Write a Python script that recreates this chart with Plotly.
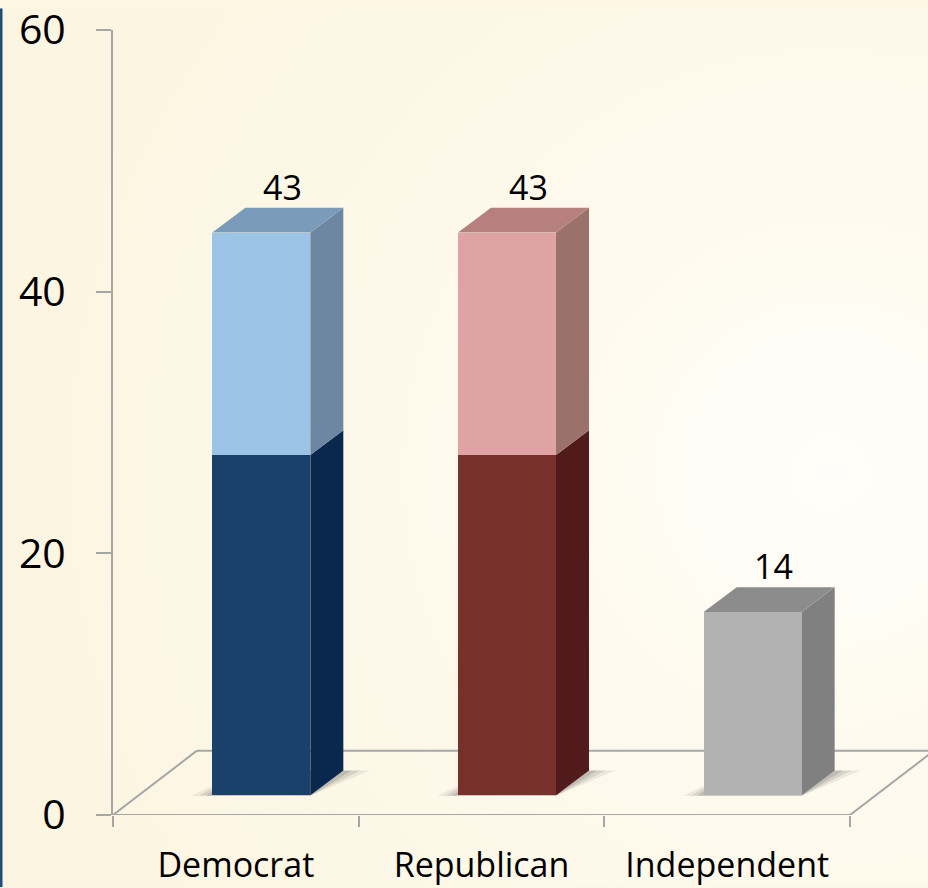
import base64
import plotly.graph_objects as go

# ---- data ----
categories = ["Democrat", "Republican", "Independent"]
lower_values = [26, 26, 14]
upper_values = [17, 17, 0]
totals = [l + u for l, u in zip(lower_values, upper_values)]
y_tick_vals = [0, 20, 40, 60]

# ---- styles ----
lower_front = ["#1B416B", "#78302A", "#B2B2B2"]
lower_side = ["#0A284E", "#521B1B", "#808080"]
upper_front = ["#9DC3E6", "#E0A3A3", "#B2B2B2"]
upper_side = ["#6D87A2", "#9B716B", "#808080"]
top_face = ["#7A9BBA", "#B5807E", "#8C8C8C"]
axis_col = "#A6A6A6"
FONT = "Open Sans"

W, H = 928, 888
ML, MR, MT, MB = 113, 0, 22, 73
plot_w = W - ML - MR
plot_h = H - MT - MB
cat_px = (850 - 113) / 3.0
x_max = -0.5 + plot_w / cat_px
y_max = 60
py = plot_h / y_max          # px per y unit
px = cat_px                  # px per x unit

# pseudo-3D geometry (pixels -> data units)
BAR_W = 98 / px
BAR_OFF = -23.5 / px
DXB, DYB = 33 / px, 25 / py          # bar depth
BASE = 20 / py                        # bar front plane above floor front
FDX, FDY = 84 / px, 65 / py           # floor depth

fig = go.Figure()

# bars (front faces)
fig.add_trace(go.Bar(
    x=list(range(len(categories))), y=lower_values, base=[BASE] * 3,
    width=BAR_W, offset=BAR_OFF,
    marker=dict(color=lower_front, line=dict(width=0)),
    hoverinfo="skip", showlegend=False))
fig.add_trace(go.Bar(
    x=list(range(len(categories))), y=upper_values,
    base=[BASE + l for l in lower_values],
    width=BAR_W, offset=BAR_OFF,
    marker=dict(color=upper_front, line=dict(width=0)),
    hoverinfo="skip", showlegend=False))

shapes = []


def poly(pts, color, opacity=1.0, layer="below"):
    d = "M " + " L ".join(f"{x},{y}" for x, y in pts) + " Z"
    return dict(type="path", path=d, xref="x", yref="y", fillcolor=color,
                line=dict(width=0), opacity=opacity, layer=layer)


# floor lines
floor_lines = [
    ((-0.5, 0), (2.5, 0)),
    ((-0.5 + FDX, FDY), (2.5 + FDX + 0.2, FDY)),
    ((-0.5, 0), (-0.5 + FDX, FDY)),
    ((2.5, 0), (2.5 + FDX, FDY)),
]
for (x0, y0), (x1, y1) in floor_lines:
    shapes.append(dict(type="line", xref="x", yref="y", x0=x0, y0=y0, x1=x1, y1=y1,
                       line=dict(color=axis_col, width=2), layer="below"))

# shadows
for i in range(len(categories)):
    xl = i + BAR_OFF
    xr = xl + BAR_W
    b = BASE
    e = 6 / px
    for k, op in [(2.2, 0.10), (1.4, 0.14), (0.7, 0.18)]:
        shapes.append(poly([(xl - 2.2 * e * k / 1.4, b - 0.05), (xr, b - 0.05),
                            (xr + DXB + 2.8 * e * k / 1.4, b + DYB),
                            (xl + DXB, b + DYB)], "#555555", op))

# side faces and tops
for i in range(len(categories)):
    xl = i + BAR_OFF
    xr = xl + BAR_W
    segs = [(0, lower_values[i], lower_side[i])]
    if upper_values[i] > 0:
        segs.append((lower_values[i], totals[i], upper_side[i]))
    for s0, s1, col in segs:
        shapes.append(poly([(xr, BASE + s0), (xr + DXB, BASE + s0 + DYB),
                            (xr + DXB, BASE + s1 + DYB), (xr, BASE + s1)], col))
    t = BASE + totals[i]
    shapes.append(poly([(xl, t), (xr, t), (xr + DXB, t + DYB), (xl + DXB, t + DYB)],
                       top_face[i]))

# value labels
annotations = []
for i, tot in enumerate(totals):
    annotations.append(dict(x=i + 0.19, y=BASE + tot + DYB, xref="x", yref="y",
                            text=str(tot), showarrow=False, yanchor="bottom",
                            yshift=-4, font=dict(family=FONT, size=34, color="#000000")))

# background: radial cream gradient + left blue stripe
svg = f'''<svg xmlns="http://www.w3.org/2000/svg" width="{W}" height="{H}" viewBox="0 0 {W} {H}">
<defs><radialGradient id="g" cx="{830}" cy="{470}" r="{820}" gradientUnits="userSpaceOnUse">
<stop offset="0" stop-color="#FFFEFA"/><stop offset="0.35" stop-color="#FEFAEE"/>
<stop offset="1" stop-color="#FCF5E1"/></radialGradient></defs>
<rect width="{W}" height="{H}" fill="url(#g)"/>
<rect width="2.5" height="{H}" fill="#1F4E79"/></svg>'''
img = "data:image/svg+xml;base64," + base64.b64encode(svg.encode()).decode()

fig.update_layout(
    width=W, height=H,
    margin=dict(l=ML, r=MR, t=MT, b=MB, pad=0),
    paper_bgcolor="#FCF6E3", plot_bgcolor="rgba(0,0,0,0)",
    barmode="overlay", bargap=0,
    shapes=shapes, annotations=annotations,
    images=[dict(source=img, xref="paper", yref="paper",
                 x=-ML / plot_w, y=1 + MT / plot_h,
                 sizex=W / plot_w, sizey=H / plot_h,
                 xanchor="left", yanchor="top", sizing="stretch", layer="below")],
    xaxis=dict(range=[-0.5, x_max], tickmode="array", tickvals=[0, 1, 2],
               ticktext=categories, ticks="", showgrid=False, zeroline=False,
               showline=False, ticklabelstandoff=27, ticklabeloverflow="allow",
               tickfont=dict(family=FONT, size=34, color="#000000"),
               minor=dict(tickmode="array", tickvals=[-0.5, 0.5, 1.5, 2.5],
                          ticks="outside", ticklen=11, tickwidth=2, tickcolor=axis_col,
                          showgrid=False)),
    yaxis=dict(range=[0, y_max], tickmode="array", tickvals=y_tick_vals,
               ticks="outside", ticklen=15, tickwidth=2, tickcolor=axis_col,
               showline=True, linecolor=axis_col, linewidth=2,
               showgrid=False, zeroline=False, ticklabelstandoff=22,
               ticklabeloverflow="allow",
               tickfont=dict(family=FONT, size=41, color="#000000")),
    font=dict(family=FONT),
)

fig.write_html("out.html", config={"displayModeBar": False},
               post_script="document.body.style.margin='0';document.body.style.padding='0';")
